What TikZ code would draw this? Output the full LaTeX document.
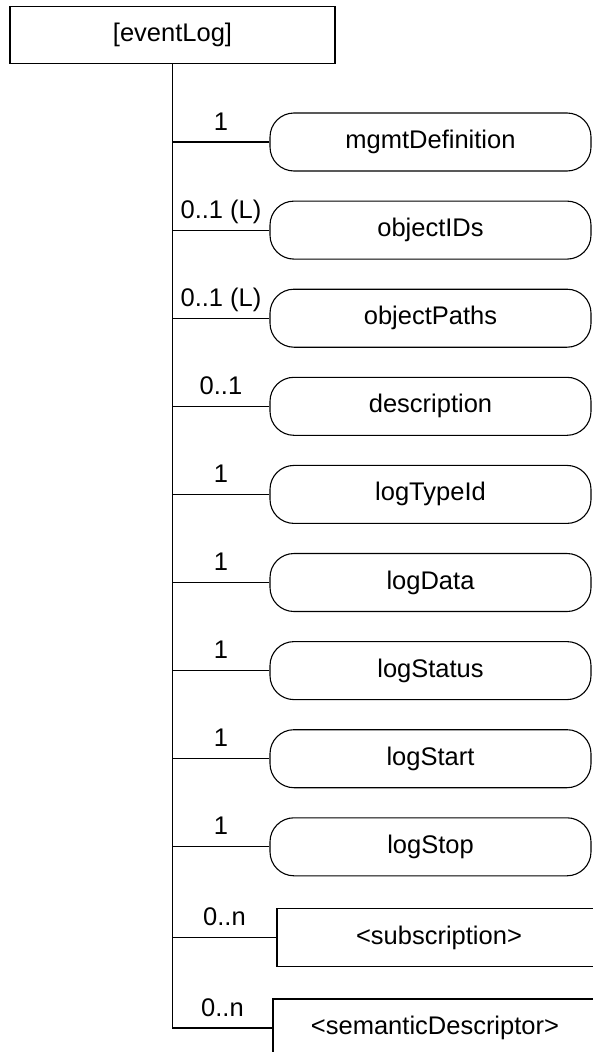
\documentclass[tikz,border=0pt]{standalone}
\usepackage{fontspec}
\setmainfont{Liberation Sans}
\usetikzlibrary{positioning}

\begin{document}
\begin{tikzpicture}[
  x=1pt, y=1pt,
  rootbox/.style={draw=black, line width=1.1pt, minimum width=325pt, minimum height=57pt, font=\fontsize{25.5}{30}\selectfont},
  elem/.style={draw=black, line width=1.1pt, rounded corners=24pt, minimum width=321pt, minimum height=58pt, font=\fontsize{25.5}{30}\selectfont},
  coll/.style={draw=black, line width=1.1pt, minimum width=324pt, minimum height=58pt, font=\fontsize{25.5}{30}\selectfont},
  link/.style={line width=1.1pt, draw=black},
  mult/.style={anchor=base, yshift=12pt, font=\fontsize{25.5}{30}\selectfont},
  node distance=29pt
]
\useasboundingbox (0,0) rectangle (592,-1052);
\node[rootbox] (log) at (172.5,-35) {[eventLog]};
\node[elem] (mgmt) at (430.5,-142) {mgmtDefinition};
\node[elem, below=of mgmt] (ids) {objectIDs};
\node[elem, below=of ids] (paths) {objectPaths};
\node[elem, below=of paths] (descr) {description};
\node[elem, below=of descr] (typeid) {logTypeId};
\node[elem, below=of typeid] (data) {logData};
\node[elem, below=of data] (status) {logStatus};
\node[elem, below=of status] (start) {logStart};
\node[elem, below=of start] (stop) {logStop};
\node[coll, below=32pt of stop.south west, anchor=north west, xshift=7pt] (subs) {<subscription>};
\node[coll, below=31pt of subs.south west, anchor=north west, xshift=-4pt] (sem) {<semanticDescriptor>};
% trunk and branches
\draw[link] (log.south) |- node[mult, pos=0.75]{0..n} (sem.west);
\draw[link] (log.south |- mgmt.west) -- node[mult]{1} (mgmt.west);
\draw[link] (log.south |- ids.west) -- node[mult]{0..1 (L)} (ids.west);
\draw[link] (log.south |- paths.west) -- node[mult]{0..1 (L)} (paths.west);
\draw[link] (log.south |- descr.west) -- node[mult]{0..1} (descr.west);
\draw[link] (log.south |- typeid.west) -- node[mult]{1} (typeid.west);
\draw[link] (log.south |- data.west) -- node[mult]{1} (data.west);
\draw[link] (log.south |- status.west) -- node[mult]{1} (status.west);
\draw[link] (log.south |- start.west) -- node[mult]{1} (start.west);
\draw[link] (log.south |- stop.west) -- node[mult]{1} (stop.west);
\draw[link] (log.south |- subs.west) -- node[mult]{0..n} (subs.west);
\end{tikzpicture}
\end{document}
